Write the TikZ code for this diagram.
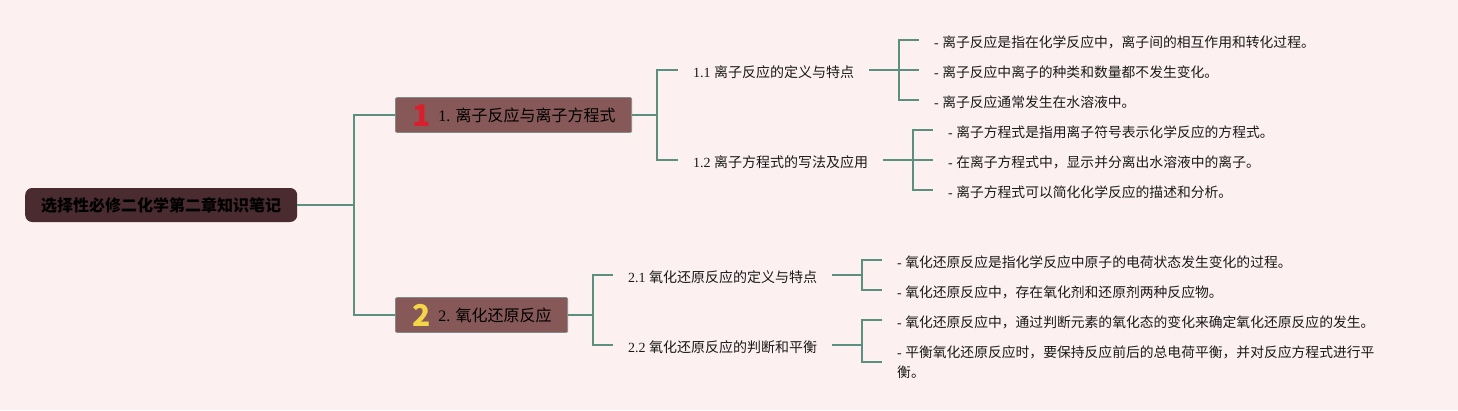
\documentclass[tikz,border=0pt]{standalone}
\usepackage{fontspec}
\setmainfont{Liberation Serif}
\newfontfamily\cjk{Noto Sans CJK SC}
\usetikzlibrary{calc}
\definecolor{bgcol}{HTML}{FDF0F0}
\definecolor{conncol}{HTML}{5B9080}
\definecolor{rootfill}{HTML}{4A2C30}
\definecolor{boxfill}{HTML}{875858}
\definecolor{boxline}{HTML}{7F8C88}
\definecolor{iconred}{HTML}{D8202C}
\definecolor{iconyellow}{HTML}{F4D548}
\definecolor{txt}{HTML}{1A1A1A}
\newcommand{\topicicon}[2]{\makebox[20pt]{\raisebox{-5pt}{\cjk\bfseries\fontsize{30}{30}\selectfont\color{#1}#2}}\hspace{7pt}}
\begin{document}
\begin{tikzpicture}[x=1pt,y=-1pt,
  conn/.style={draw=conncol, line width=2pt},
  rootbox/.style={fill=rootfill, rounded corners=7pt, minimum height=34pt, inner xsep=16pt, inner ysep=0pt,
    font=\cjk\bfseries\fontsize{16}{18}\selectfont, text=black, anchor=west, text height=14pt, text depth=2pt},
  topicbox/.style={fill=boxfill, draw=boxline, line width=0.8pt, rounded corners=2pt, minimum height=35pt,
    inner xsep=16pt, inner ysep=0pt, font=\fontsize{16}{18}\selectfont, text=black, anchor=west, text height=14pt, text depth=2pt},
  sublabel/.style={inner xsep=15pt, inner ysep=0pt, font=\fontsize{14}{18}\selectfont, text=txt, anchor=west, text height=15pt, text depth=1pt},
  leaf/.style={inner xsep=15pt, inner ysep=0pt, font=\fontsize{13.8}{20}\selectfont, text=txt, anchor=west, text height=15pt, text depth=1pt},
  leafmulti/.style={inner xsep=15pt, inner ysep=0pt, font=\fontsize{13.8}{20}\selectfont, text=txt, anchor=west, align=left},
]
\useasboundingbox (0,0) rectangle (1458,410);
\fill[bgcol] (0,0) rectangle (1458,410);

% nodes
\node[rootbox] (root) at (25,205) {选择性必修二化学第二章知识笔记};
\node[topicbox] (b1) at (395,115) {\topicicon{iconred}{1}1. {\cjk 离子反应与离子方程式}};
\node[topicbox] (b2) at (395,315) {\topicicon{iconyellow}{2}2. {\cjk 氧化还原反应}};

\node[sublabel] (s11) at (678,70) {1.1 {\cjk 离子反应的定义与特点}};
\node[sublabel] (s12) at (678,160) {1.2 {\cjk 离子方程式的写法及应用}};
\node[sublabel] (s21) at (613,275) {2.1 {\cjk 氧化还原反应的定义与特点}};
\node[sublabel] (s22) at (613,345) {2.2 {\cjk 氧化还原反应的判断和平衡}};

\node[leaf] (l111) at (919,40) {- {\cjk 离子反应是指在化学反应中，离子间的相互作用和转化过程。}};
\node[leaf] (l112) at (919,70) {- {\cjk 离子反应中离子的种类和数量都不发生变化。}};
\node[leaf] (l113) at (919,100) {- {\cjk 离子反应通常发生在水溶液中。}};
\node[leaf] (l121) at (933,130) {- {\cjk 离子方程式是指用离子符号表示化学反应的方程式。}};
\node[leaf] (l122) at (933,160) {- {\cjk 在离子方程式中，显示并分离出水溶液中的离子。}};
\node[leaf] (l123) at (933,190) {- {\cjk 离子方程式可以简化化学反应的描述和分析。}};
\node[leaf] (l211) at (882,260) {- {\cjk 氧化还原反应是指化学反应中原子的电荷状态发生变化的过程。}};
\node[leaf] (l212) at (882,290) {- {\cjk 氧化还原反应中，存在氧化剂和还原剂两种反应物。}};
\node[leaf] (l221) at (882,320) {- {\cjk 氧化还原反应中，通过判断元素的氧化态的变化来确定氧化还原反应的发生。}};
\node[leafmulti] (l222) at (882,362) {- {\cjk 平衡氧化还原反应时，要保持反应前后的总电荷平衡，并对反应方程式进行平}\\{\cjk 衡。}};

% junctions
\coordinate (j0) at (354,205);
\coordinate (j1) at (657,115);
\coordinate (j2) at (593,315);
\coordinate (j11) at (899,70);
\coordinate (j12) at (913,160);
\coordinate (j21) at (862,275);
\coordinate (j22) at (862,345);

% connectors
\draw[conn] (root.east) -- (j0) |- (b1.west);
\draw[conn] (j0) |- (b2.west);
\draw[conn] (b1.east) -- (j1) |- (s11.west);
\draw[conn] (j1) |- (s12.west);
\draw[conn] (b2.east) -- (j2) |- (s21.west);
\draw[conn] (j2) |- (s22.west);
\draw[conn] (s11.east) -- (j11) |- (l111.west);
\draw[conn] (j11) |- (l113.west);
\draw[conn] (j11) -- (l112.west);
\draw[conn] (s12.east) -- (j12) |- (l121.west);
\draw[conn] (j12) |- (l123.west);
\draw[conn] (j12) -- (l122.west);
\draw[conn] (s21.east) -- (j21) |- (l211.west);
\draw[conn] (j21) |- (l212.west);
\draw[conn] (s22.east) -- (j22) |- (l221.west);
\draw[conn] (j22) |- (l222.west);
\end{tikzpicture}
\end{document}
